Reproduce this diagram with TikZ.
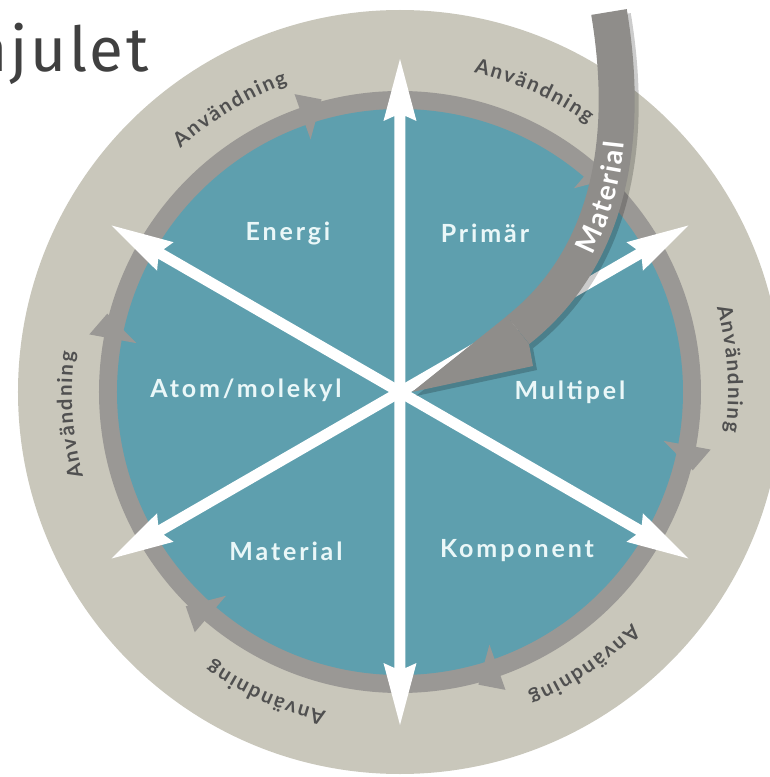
\documentclass[tikz,border=0pt]{standalone}
\usepackage{fontspec}
\setmainfont{Lato}
\newfontfamily\titlefont{Fira Sans}[LetterSpace=4.5]
\newfontfamily\labfont{Lato}[LetterSpace=11.5]
\newfontfamily\ringfont{Lato}
\usetikzlibrary{decorations.text}
\definecolor{beige}{HTML}{C9C7BB}
\definecolor{ringgray}{HTML}{9A9895}
\definecolor{matgray}{HTML}{8F8D8A}
\definecolor{wheelteal}{HTML}{5E9FAE}
\definecolor{labwhite}{HTML}{EAF7F8}
\definecolor{ringtext}{HTML}{505050}
\definecolor{titlegray}{HTML}{404040}
\newcommand\ringfmt{\ringfont\bfseries\fontsize{20.5}{24}\selectfont}
\newcommand\matfmt{\ringfont\bfseries\fontsize{28}{32}\selectfont}
\begin{document}
\begin{tikzpicture}[x=1pt,y=1pt,
  lab/.style={font=\labfont\bfseries\fontsize{25}{30}\selectfont, text=labwhite, inner sep=0pt},
  ringlabel/.style={decorate, decoration={text along path, text={|\ringfmt|Användning}, text align=fit to path, text color=ringtext}}
  ]
\useasboundingbox (-400,-385) rectangle (370,392);
% wheel
\fill[beige] (0,0) circle[radius=382];
\fill[ringgray] (0,0) circle[radius=301];
\fill[wheelteal] (0,0) circle[radius=283];
\foreach \a in {45,105,...,345}
  \fill[ringgray] (\a+4.5:268) -- (\a+4.5:316) -- (\a:303) -- cycle;
% ring labels
\foreach \c in {4,66,121,184,246,304}
  \path[ringlabel] (\c+11:328) arc[start angle=\c+11, end angle=\c-11, radius=328];
% title
\node[font=\titlefont\fontsize{62}{64}\selectfont, text=titlegray, anchor=base east, inner sep=0pt] (title) at (-251,320) {njulet};
% sector labels
\node[lab] (energi) at (-112,159) {Energi};
\node[lab] (primar) at (85,159) {Primär};
\node[lab] (atom) at (-154,2) {Atom/molekyl};
\node[lab] (multipel) at (170,0) {Multipel};
\node[lab] (material) at (-114,-159) {Material};
\node[lab] (komponent) at (117,-159) {Komponent};
% spokes
\coordinate (c) at (0,0);
\foreach \a in {30,90,...,330}
  \fill[white, rotate=\a] (0,-5.5) -- (276,-5.5) -- (271,-16.5) -- (333,0) -- (271,16.5) -- (276,5.5) -- (0,5.5) -- cycle;
% material arrow
\begin{scope}[shift={(4,-4)}, opacity=0.2]
  \draw[black, line width=36] (209,380) .. controls (232,242) and (204,130) .. (118,62);
  \fill[black] (107,76) -- (12,0) -- (133,26) -- (129,48) -- cycle;
\end{scope}
\draw[matgray, line width=36] (209,380) .. controls (232,242) and (204,130) .. (118,62);
\fill[matgray] (107,76) -- (12,0) -- (133,26) -- (129,48) -- cycle;
\path[decorate, decoration={text along path, text={|\matfmt|Material}, text align={left indent=103pt, right indent=130pt, fit to path}, text color=white, raise=-10pt}]
  (118,62) .. controls (204,130) and (232,242) .. (209,380);
\end{tikzpicture}
\end{document}
